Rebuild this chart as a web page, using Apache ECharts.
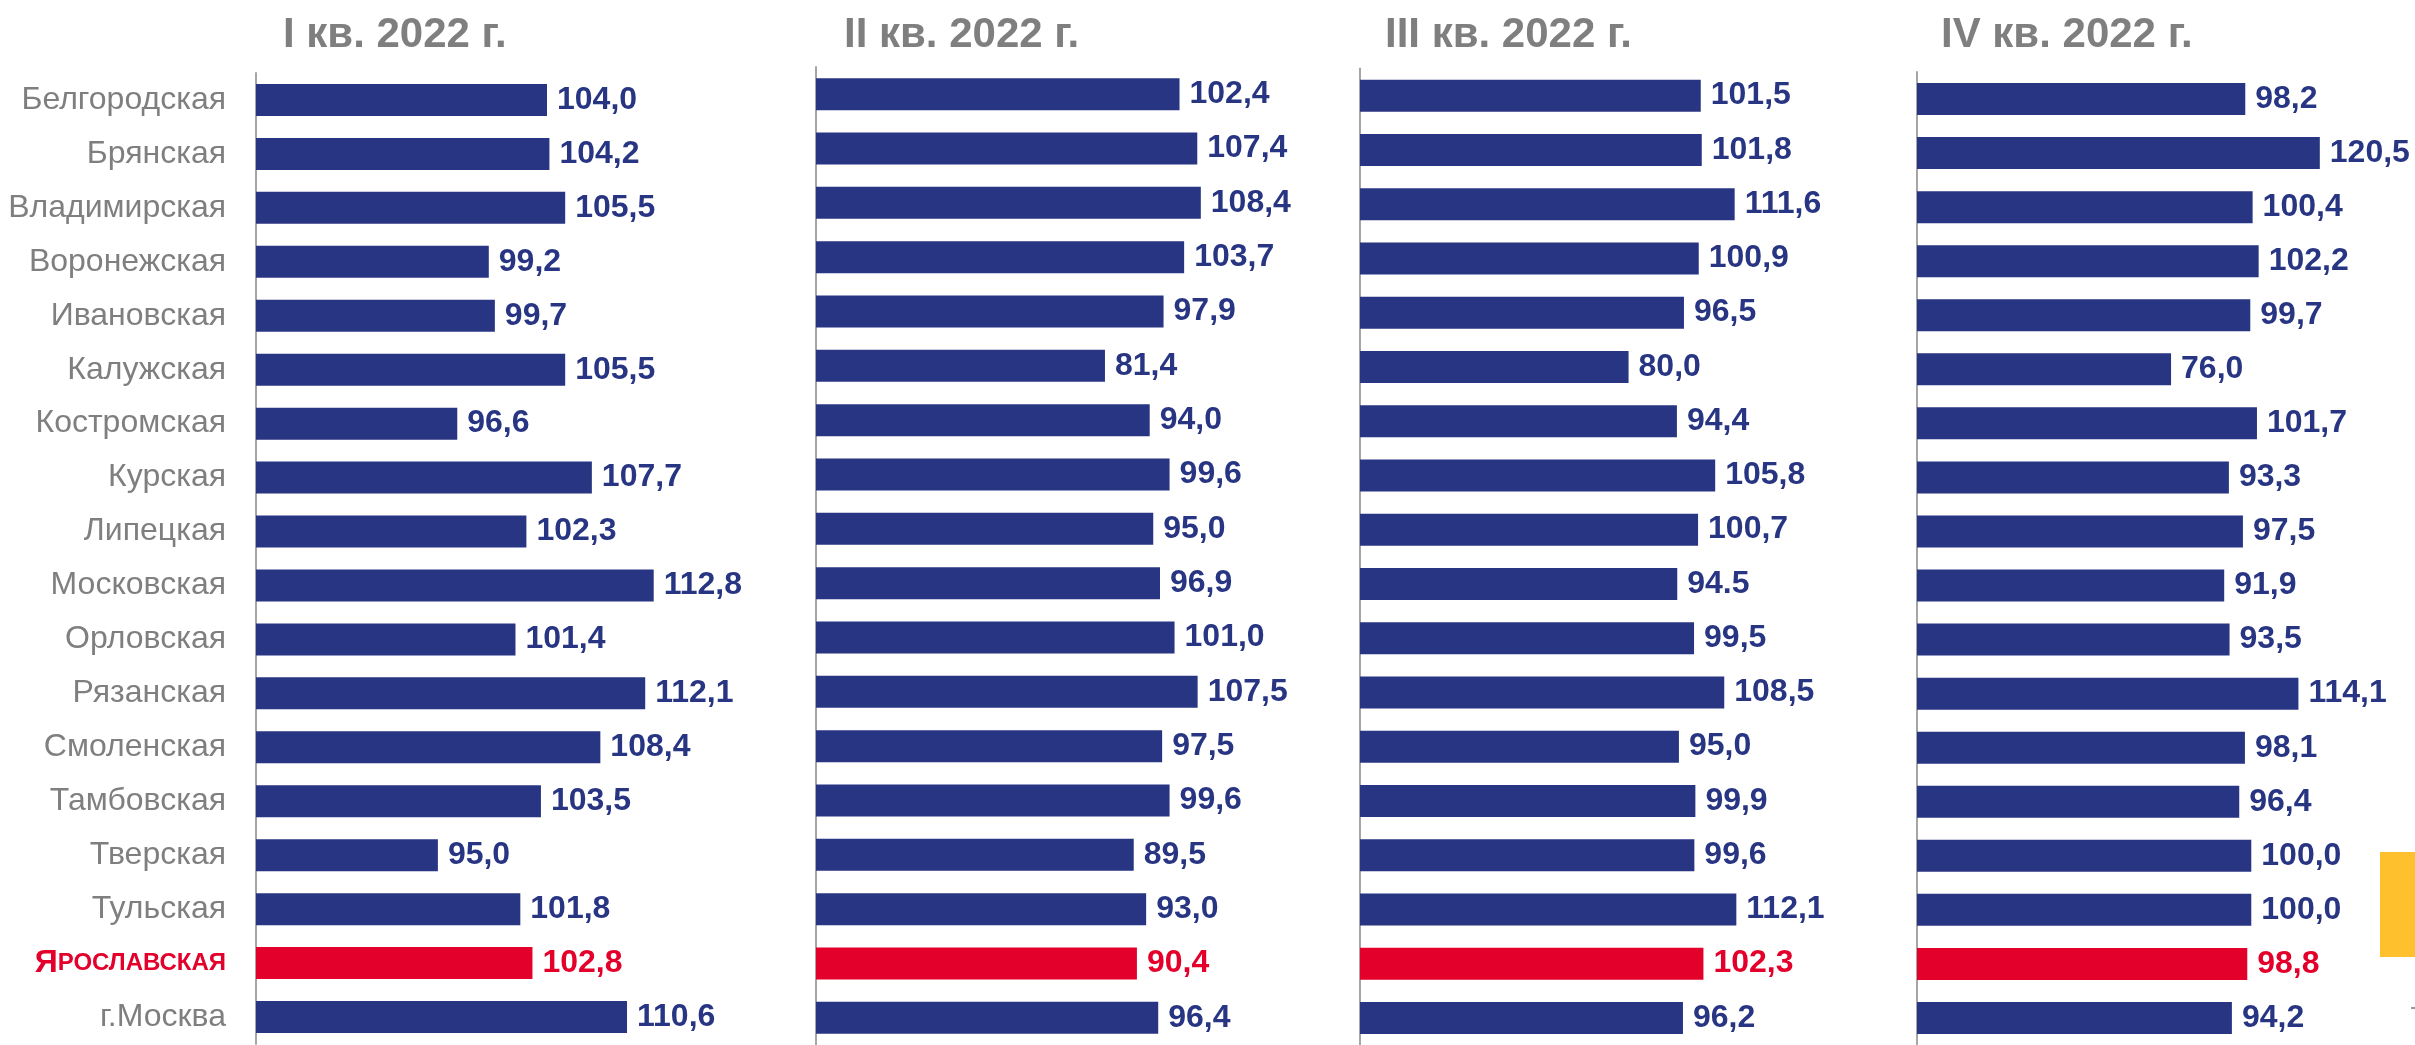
<!DOCTYPE html>
<html>
<head>
<meta charset="utf-8">
<title>Индексы по регионам, 2022</title>
<script src="https://cdn.jsdelivr.net/npm/echarts@6/dist/echarts.min.js"></script>
<style>
  html, body { margin: 0; padding: 0; background: #fff; }
  #chart { width: 2415px; height: 1045px; }
</style>
</head>
<body>
<div id="chart"></div>
<script>
// категории (регионы)
const regions = ['Белгородская', 'Брянская', 'Владимирская', 'Воронежская', 'Ивановская',
  'Калужская', 'Костромская', 'Курская', 'Липецкая', 'Московская', 'Орловская', 'Рязанская',
  'Смоленская', 'Тамбовская', 'Тверская', 'Тульская', 'Ярославская', 'г.Москва'];

// значения по кварталам
const q1 = [104.0, 104.2, 105.5, 99.2, 99.7, 105.5, 96.6, 107.7, 102.3, 112.8, 101.4, 112.1, 108.4, 103.5, 95.0, 101.8, 102.8, 110.6];
const q2 = [102.4, 107.4, 108.4, 103.7, 97.9, 81.4, 94.0, 99.6, 95.0, 96.9, 101.0, 107.5, 97.5, 99.6, 89.5, 93.0, 90.4, 96.4];
const q3 = [101.5, 101.8, 111.6, 100.9, 96.5, 80.0, 94.4, 105.8, 100.7, 94.5, 99.5, 108.5, 95.0, 99.9, 99.6, 112.1, 102.3, 96.2];
const q4 = [98.2, 120.5, 100.4, 102.2, 99.7, 76.0, 101.7, 93.3, 97.5, 91.9, 93.5, 114.1, 98.1, 96.4, 100.0, 100.0, 98.8, 94.2];

const quarters = ['I кв. 2022 г.', 'II кв. 2022 г.', 'III кв. 2022 г.', 'IV кв. 2022 г.'];
const axisMin = [80, 0, 0, 0];
const axisMax = [120, 140, 140, 140];

const highlight = 'Ярославская';
// в III кв. у Московской подпись с точкой, как в исходнике
const dotLabel = { 2: ['Московская'] };

const NAVY = '#283583';
const RED = '#e3002b';
const GRAY = '#7f7f7f';
const FONT = 'Liberation Sans, Arial, sans-serif';

// раскладка панелей (px)
const panels = [
  { left: 256, width: 485, top: 73, height: 971, title: 278 },
  { left: 816, width: 497, top: 67, height: 986, title: 839 },
  { left: 1360, width: 470, top: 68.5, height: 986, title: 1380 },
  { left: 1917, width: 468, top: 72, height: 986, title: 1936 }
];

const allData = [q1, q2, q3, q4];

function buildData(values, panelIdx) {
  return values.map((v, i) => {
    const name = regions[i];
    const isHl = name === highlight;
    const useDot = (dotLabel[panelIdx] || []).indexOf(name) >= 0;
    const txt = useDot ? v.toFixed(1) : v.toFixed(1).replace('.', ',');
    return {
      value: v,
      itemStyle: { color: isHl ? RED : NAVY },
      label: { color: isHl ? RED : NAVY, formatter: txt }
    };
  });
}

const chart = echarts.init(document.getElementById('chart'));

const option = {
  backgroundColor: '#ffffff',
  animation: false,
  title: quarters.map((q, i) => ({
    text: q,
    left: panels[i].title,
    top: 9,
    textStyle: { fontFamily: FONT, fontSize: 42, fontWeight: 'bold', color: GRAY }
  })),
  grid: panels.map(p => ({ left: p.left, width: p.width, top: p.top, height: p.height })),
  xAxis: panels.map((p, i) => ({
    type: 'value',
    gridIndex: i,
    min: axisMin[i],
    max: axisMax[i],
    show: false
  })),
  yAxis: panels.map((p, i) => ({
    type: 'category',
    gridIndex: i,
    inverse: true,
    data: regions,
    axisLine: { show: true, lineStyle: { color: '#a6a6a6', width: 2 } },
    axisTick: { show: false },
    splitLine: { show: false },
    axisLabel: i === 0 ? {
      show: true,
      margin: 30,
      fontFamily: FONT,
      fontSize: 32,
      color: GRAY,
      formatter: function (val) {
        if (val === highlight) {
          return '{big|' + val.charAt(0) + '}{small|' + val.slice(1).toUpperCase() + '}';
        }
        return val;
      },
      rich: {
        big: { fontFamily: FONT, fontSize: 32, fontWeight: 'bold', color: RED },
        small: { fontFamily: FONT, fontSize: 24, fontWeight: 'bold', color: RED }
      }
    } : { show: false }
  })),
  series: allData.map((vals, i) => ({
    type: 'bar',
    xAxisIndex: i,
    yAxisIndex: i,
    barWidth: 32,
    clip: true,
    data: buildData(vals, i),
    label: {
      show: true,
      position: 'right',
      distance: 10,
      fontFamily: FONT,
      fontSize: 32,
      fontWeight: 'bold'
    }
  })),
  graphic: [
    { type: 'rect', shape: { x: 2380, y: 852, width: 35, height: 105 }, style: { fill: '#fec12d' } },
    { type: 'rect', shape: { x: 2411, y: 1007, width: 4, height: 2 }, style: { fill: '#999999' } }
  ]
};

chart.setOption(option);
</script>
</body>
</html>
